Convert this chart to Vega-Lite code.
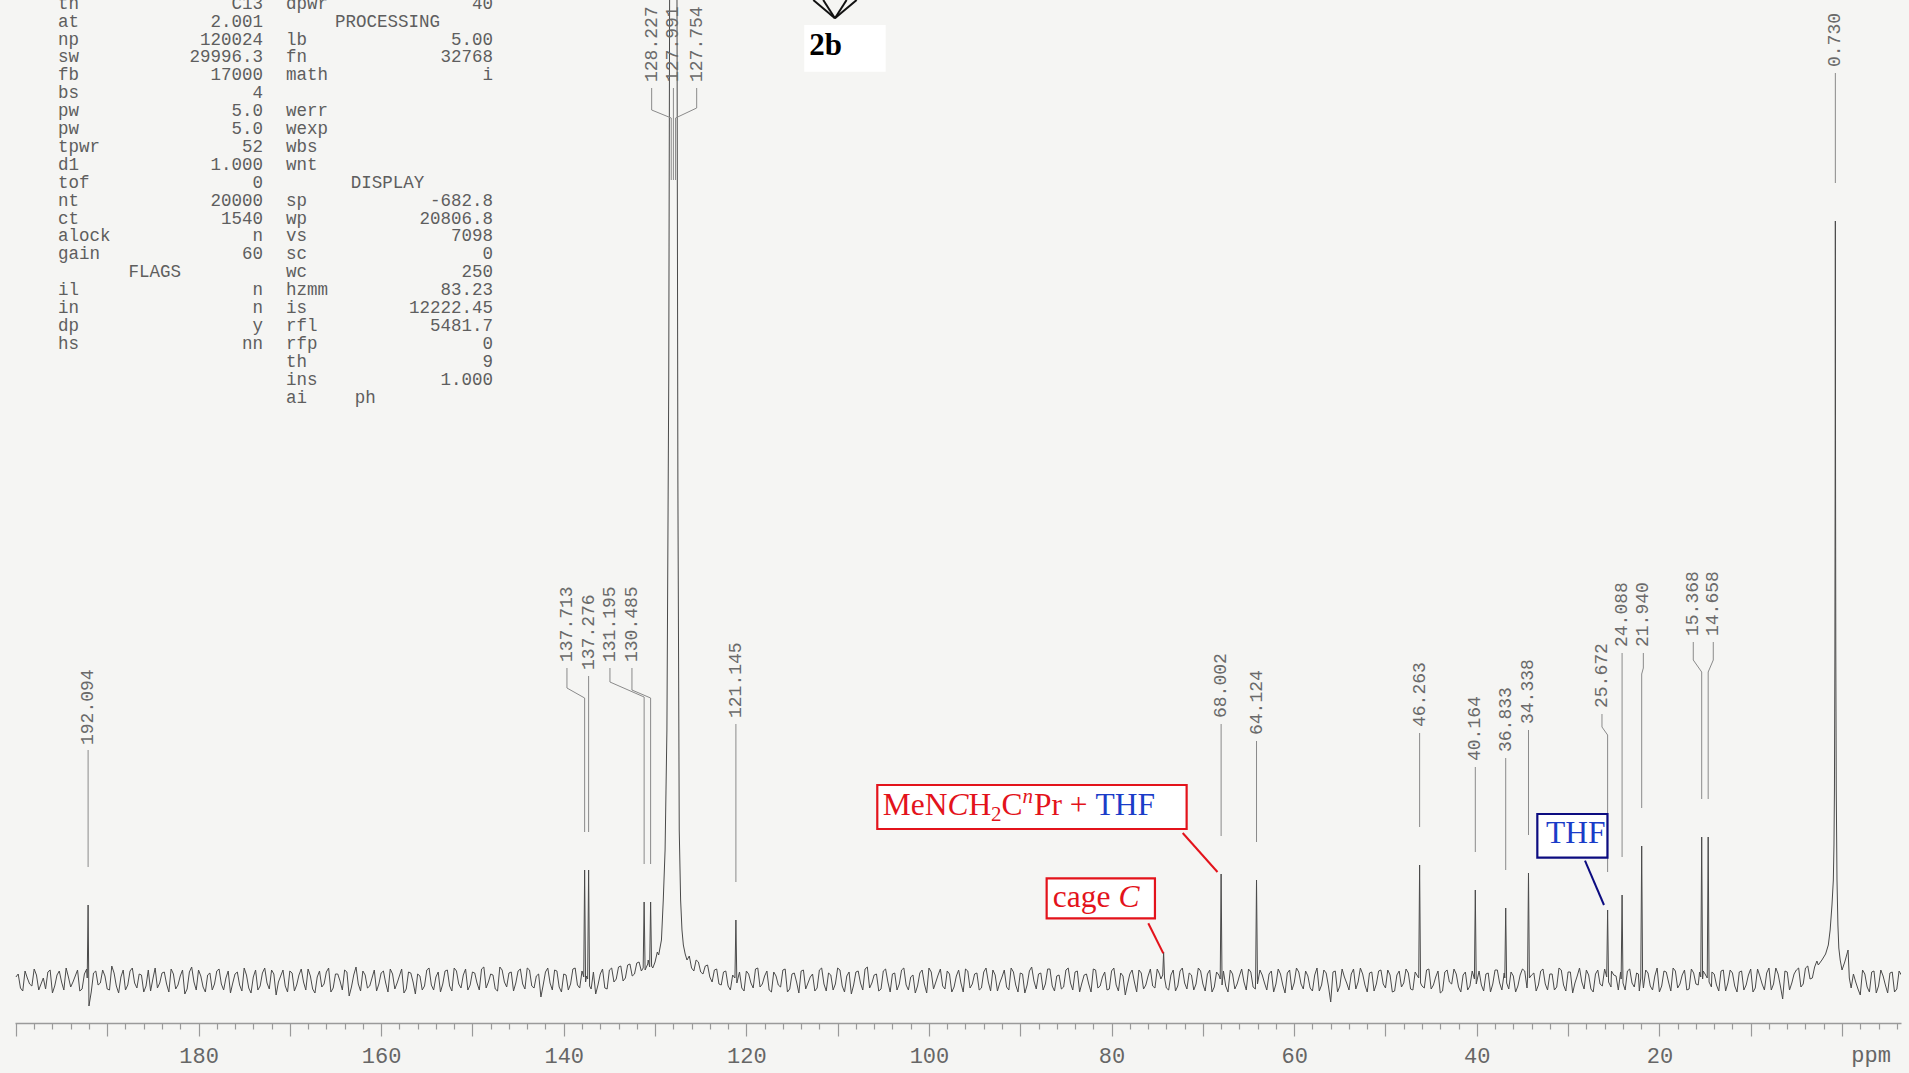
{
  "$schema": "https://vega.github.io/schema/vega-lite/v6.json",
  "width": 1886,
  "height": 1023,
  "autosize": {"type": "none"},
  "padding": {"left": 15, "top": 0, "right": 8, "bottom": 50},
  "background": "#f5f5f3",
  "config": {"view": {"stroke": null}},
  "datasets": {
    "spec": [
      {"p":200,"y":0.3},{"p":199.5,"y":-0.8},{"p":199,"y":0.9},{"p":198.5,"y":-0.4},{"p":198,"y":1.1},{"p":197.5,"y":-1},{"p":197,"y":0.2},{"p":196.5,"y":0.8},{"p":196,"y":-1.3},{"p":195.5,"y":0.5},{"p":195,"y":-0.2},{"p":194.5,"y":1.2},{"p":194,"y":-0.7},{"p":193.5,"y":0.4},{"p":193,"y":-1.1},{"p":192.5,"y":0.6},{"p":192.19,"y":0.2},{"p":192.094,"y":7.5},{"p":192,"y":-2.6},{"p":191.5,"y":0.7},{"p":191,"y":-0.5},{"p":190.5,"y":1},{"p":190,"y":-0.9},{"p":189.5,"y":1.4},{"p":189,"y":-0.6},{"p":188.5,"y":0.3},{"p":188,"y":-1},{"p":187.5,"y":0.9},{"p":187,"y":-0.3},{"p":186.5,"y":0.6},{"p":186,"y":-1.2},{"p":185.5,"y":1},{"p":185,"y":0.1},{"p":184.5,"y":-0.8},{"p":184,"y":0.7},{"p":183.5,"y":-0.4},{"p":183,"y":1.1},{"p":182.5,"y":-0.9},{"p":182,"y":0.4},{"p":181.5,"y":-1.4},{"p":181,"y":0.8},{"p":180.5,"y":-0.2},{"p":180,"y":1},{"p":179.5,"y":-0.7},{"p":179,"y":0.5},{"p":178.5,"y":-1},{"p":178,"y":0.9},{"p":177.5,"y":-0.4},{"p":177,"y":0.2},{"p":176.5,"y":-1.3},{"p":176,"y":0.6},{"p":175.5,"y":-0.5},{"p":175,"y":1.2},{"p":174.5,"y":-0.8},{"p":174,"y":0.3},{"p":173.5,"y":-1},{"p":173,"y":0.7},{"p":172.5,"y":-0.3},{"p":172,"y":1},{"p":171.5,"y":-1.5},{"p":171,"y":0.4},{"p":170.5,"y":-0.6},{"p":170,"y":0.9},{"p":169.5,"y":-1.1},{"p":169,"y":0.5},{"p":168.5,"y":-0.2},{"p":168,"y":1.1},{"p":167.5,"y":-0.9},{"p":167,"y":0.3},{"p":166.5,"y":-0.7},{"p":166,"y":0.8},{"p":165.5,"y":-1.2},{"p":165,"y":0.6},{"p":164.5,"y":-0.1},{"p":164,"y":1},{"p":163.5,"y":-1.6},{"p":163,"y":0.5},{"p":162.5,"y":-0.4},{"p":162,"y":0.9},{"p":161.5,"y":-0.8},{"p":161,"y":0.2},{"p":160.5,"y":-1.1},{"p":160,"y":0.7},{"p":159.5,"y":-0.3},{"p":159,"y":1.1},{"p":158.5,"y":-0.9},{"p":158,"y":0.4},{"p":157.5,"y":-1.3},{"p":157,"y":0.8},{"p":156.5,"y":-0.2},{"p":156,"y":0.6},{"p":155.5,"y":-1},{"p":155,"y":1},{"p":154.5,"y":-0.5},{"p":154,"y":0.3},{"p":153.5,"y":-1.2},{"p":153,"y":0.9},{"p":152.5,"y":-0.6},{"p":152,"y":1.2},{"p":151.5,"y":-0.4},{"p":151,"y":0.5},{"p":150.5,"y":-1},{"p":150,"y":0.8},{"p":149.5,"y":-0.3},{"p":149,"y":1.1},{"p":148.5,"y":-0.8},{"p":148,"y":0.6},{"p":147.5,"y":-0.9},{"p":147,"y":1.3},{"p":146.5,"y":-0.2},{"p":146,"y":0.7},{"p":145.5,"y":-1.1},{"p":145,"y":0.9},{"p":144.5,"y":-0.4},{"p":144,"y":1.2},{"p":143.5,"y":-0.6},{"p":143,"y":0.4},{"p":142.5,"y":-1.7},{"p":142,"y":0.8},{"p":141.5,"y":-0.3},{"p":141,"y":1},{"p":140.5,"y":-0.7},{"p":140,"y":0.6},{"p":139.5,"y":-1},{"p":139,"y":1.1},{"p":138.5,"y":-0.5},{"p":138,"y":0.9},{"p":137.81,"y":0.3},{"p":137.713,"y":11},{"p":137.61,"y":-0.2},{"p":137.5,"y":0.4},{"p":137.38,"y":0.1},{"p":137.276,"y":11},{"p":137.17,"y":-0.6},{"p":137,"y":-0.9},{"p":136.5,"y":-1.4},{"p":136,"y":0.6},{"p":135.5,"y":-0.8},{"p":135,"y":1},{"p":134.5,"y":-0.2},{"p":134,"y":1.3},{"p":133.5,"y":-0.1},{"p":133,"y":1.5},{"p":132.5,"y":0.4},{"p":132,"y":1.7},{"p":131.5,"y":0.9},{"p":131.3,"y":1.2},{"p":131.195,"y":7.8},{"p":131.09,"y":1},{"p":130.8,"y":1.6},{"p":130.59,"y":1.3},{"p":130.485,"y":7.8},{"p":130.38,"y":1.4},{"p":130,"y":1.8},{"p":129.6,"y":2.5},{"p":129.3,"y":4},{"p":129.1,"y":8},{"p":128.9,"y":13},{"p":128.7,"y":25},{"p":128.5,"y":60},{"p":128.35,"y":120},{"p":128.227,"y":200},{"p":128.11,"y":160},{"p":127.991,"y":220},{"p":127.87,"y":160},{"p":127.754,"y":200},{"p":127.62,"y":110},{"p":127.5,"y":50},{"p":127.35,"y":15},{"p":127.2,"y":8},{"p":127.05,"y":5},{"p":126.9,"y":3.5},{"p":126.7,"y":2.6},{"p":126.5,"y":2},{"p":126,"y":1.2},{"p":125.5,"y":2},{"p":125,"y":0.8},{"p":124.5,"y":1.4},{"p":124,"y":0.3},{"p":123.5,"y":1},{"p":123,"y":-0.4},{"p":122.5,"y":0.8},{"p":122,"y":-0.6},{"p":121.5,"y":0.5},{"p":121.25,"y":0.2},{"p":121.145,"y":6},{"p":121.04,"y":-0.3},{"p":120.5,"y":-0.8},{"p":120,"y":0.9},{"p":119.5,"y":-0.3},{"p":119,"y":1.1},{"p":118.5,"y":-0.7},{"p":118,"y":0.4},{"p":117.5,"y":-1},{"p":117,"y":0.8},{"p":116.5,"y":-0.5},{"p":116,"y":1},{"p":115.5,"y":-1.2},{"p":115,"y":0.6},{"p":114.5,"y":-0.2},{"p":114,"y":0.9},{"p":113.5,"y":-0.9},{"p":113,"y":0.3},{"p":112.5,"y":-1.1},{"p":112,"y":1},{"p":111.5,"y":-0.4},{"p":111,"y":0.7},{"p":110.5,"y":-1},{"p":110,"y":1.2},{"p":109.5,"y":-0.6},{"p":109,"y":0.4},{"p":108.5,"y":-1.4},{"p":108,"y":0.8},{"p":107.5,"y":-0.3},{"p":107,"y":1.1},{"p":106.5,"y":-0.8},{"p":106,"y":0.5},{"p":105.5,"y":-1.1},{"p":105,"y":0.9},{"p":104.5,"y":-0.2},{"p":104,"y":0.6},{"p":103.5,"y":-1},{"p":103,"y":1},{"p":102.5,"y":-0.5},{"p":102,"y":0.3},{"p":101.5,"y":-1.3},{"p":101,"y":0.7},{"p":100.5,"y":-0.4},{"p":100,"y":1.2},{"p":99.5,"y":-0.9},{"p":99,"y":0.5},{"p":98.5,"y":-0.6},{"p":98,"y":0.9},{"p":97.5,"y":-1.2},{"p":97,"y":0.4},{"p":96.5,"y":-0.3},{"p":96,"y":1.1},{"p":95.5,"y":-0.8},{"p":95,"y":0.6},{"p":94.5,"y":-1},{"p":94,"y":0.8},{"p":93.5,"y":-0.2},{"p":93,"y":1},{"p":92.5,"y":-1.1},{"p":92,"y":0.3},{"p":91.5,"y":-0.7},{"p":91,"y":1.2},{"p":90.5,"y":-0.5},{"p":90,"y":0.7},{"p":89.5,"y":-1.3},{"p":89,"y":0.9},{"p":88.5,"y":-0.1},{"p":88,"y":0.6},{"p":87.5,"y":-1},{"p":87,"y":1.1},{"p":86.5,"y":-0.6},{"p":86,"y":0.4},{"p":85.5,"y":-0.9},{"p":85,"y":1},{"p":84.5,"y":-0.3},{"p":84,"y":0.8},{"p":83.5,"y":-1.2},{"p":83,"y":0.5},{"p":82.5,"y":-0.4},{"p":82,"y":1.1},{"p":81.5,"y":-0.8},{"p":81,"y":0.3},{"p":80.5,"y":-1},{"p":80,"y":0.9},{"p":79.5,"y":-0.5},{"p":79,"y":0.7},{"p":78.5,"y":-1.5},{"p":78,"y":0.6},{"p":77.5,"y":-0.2},{"p":77,"y":1},{"p":76.5,"y":-0.9},{"p":76,"y":0.4},{"p":75.5,"y":-0.6},{"p":75,"y":1.1},{"p":74.6,"y":0.1},{"p":74.4,"y":0.5},{"p":74.3,"y":2.8},{"p":74.2,"y":0.2},{"p":74,"y":-0.8},{"p":73.5,"y":0.5},{"p":73,"y":-1.1},{"p":72.5,"y":0.9},{"p":72,"y":-0.3},{"p":71.5,"y":0.7},{"p":71,"y":-1},{"p":70.5,"y":1.2},{"p":70,"y":-0.4},{"p":69.5,"y":0.6},{"p":69,"y":-1.2},{"p":68.5,"y":0.8},{"p":68.1,"y":0.1},{"p":68.002,"y":10.6},{"p":67.9,"y":-0.5},{"p":67.5,"y":-0.6},{"p":67,"y":1},{"p":66.5,"y":-0.9},{"p":66,"y":0.4},{"p":65.5,"y":-0.2},{"p":65,"y":1.1},{"p":64.5,"y":-0.7},{"p":64.22,"y":0.3},{"p":64.124,"y":10},{"p":64.02,"y":-0.4},{"p":63.5,"y":0.5},{"p":63,"y":-1},{"p":62.5,"y":0.9},{"p":62,"y":-0.4},{"p":61.5,"y":0.6},{"p":61,"y":-1.3},{"p":60.5,"y":1},{"p":60,"y":-0.3},{"p":59.5,"y":0.8},{"p":59,"y":-0.9},{"p":58.5,"y":0.4},{"p":58,"y":-1.1},{"p":57.5,"y":1.2},{"p":57,"y":-0.5},{"p":56.5,"y":0.7},{"p":56,"y":-2.2},{"p":55.5,"y":0.9},{"p":55,"y":-0.6},{"p":54.5,"y":0.3},{"p":54,"y":-1},{"p":53.5,"y":1.1},{"p":53,"y":-0.2},{"p":52.5,"y":0.6},{"p":52,"y":-1.2},{"p":51.5,"y":0.8},{"p":51,"y":-0.4},{"p":50.5,"y":1},{"p":50,"y":-0.8},{"p":49.5,"y":0.5},{"p":49,"y":-1.1},{"p":48.5,"y":0.9},{"p":48,"y":-0.3},{"p":47.5,"y":0.7},{"p":47,"y":-1},{"p":46.5,"y":0.4},{"p":46.36,"y":0.2},{"p":46.263,"y":11.5},{"p":46.16,"y":-0.3},{"p":46,"y":-0.6},{"p":45.5,"y":1},{"p":45,"y":-0.9},{"p":44.5,"y":0.3},{"p":44,"y":-1.3},{"p":43.5,"y":0.8},{"p":43,"y":-0.2},{"p":42.5,"y":1.1},{"p":42,"y":-0.7},{"p":41.5,"y":0.5},{"p":41,"y":-1},{"p":40.5,"y":0.9},{"p":40.26,"y":0.1},{"p":40.164,"y":9},{"p":40.06,"y":-0.4},{"p":39.5,"y":-0.5},{"p":39,"y":0.6},{"p":38.5,"y":-1.2},{"p":38,"y":1},{"p":37.5,"y":-0.3},{"p":37,"y":0.7},{"p":36.93,"y":0.2},{"p":36.833,"y":7.2},{"p":36.73,"y":-0.3},{"p":36.5,"y":-0.9},{"p":36,"y":0.4},{"p":35.5,"y":-0.6},{"p":35,"y":1.1},{"p":34.5,"y":-0.8},{"p":34.44,"y":0.1},{"p":34.338,"y":10.7},{"p":34.24,"y":0.2},{"p":34,"y":0.5},{"p":33.5,"y":-1.1},{"p":33,"y":0.9},{"p":32.5,"y":-0.4},{"p":32,"y":0.6},{"p":31.5,"y":-1},{"p":31,"y":1.2},{"p":30.5,"y":-0.5},{"p":30,"y":0.8},{"p":29.5,"y":-1.3},{"p":29,"y":0.4},{"p":28.5,"y":-0.2},{"p":28,"y":1},{"p":27.5,"y":-0.9},{"p":27,"y":0.6},{"p":26.5,"y":-0.4},{"p":26,"y":1.1},{"p":25.77,"y":0.3},{"p":25.672,"y":7},{"p":25.57,"y":-0.2},{"p":25.3,"y":-0.7},{"p":25,"y":0.5},{"p":24.5,"y":-1},{"p":24.19,"y":0.1},{"p":24.088,"y":8.5},{"p":23.99,"y":-0.3},{"p":23.5,"y":0.9},{"p":23,"y":-0.3},{"p":22.5,"y":0.7},{"p":22.2,"y":-1.1},{"p":22.04,"y":0.2},{"p":21.94,"y":13.4},{"p":21.84,"y":0.1},{"p":21.5,"y":1},{"p":21,"y":-0.6},{"p":20.5,"y":0.4},{"p":20,"y":-1.2},{"p":19.5,"y":0.9},{"p":19,"y":-0.2},{"p":18.5,"y":1.2},{"p":18,"y":-0.8},{"p":17.5,"y":0.5},{"p":17,"y":-1},{"p":16.5,"y":1.1},{"p":16,"y":-0.4},{"p":15.6,"y":0.8},{"p":15.47,"y":0.3},{"p":15.368,"y":14.3},{"p":15.27,"y":0.1},{"p":15,"y":0.6},{"p":14.76,"y":0.2},{"p":14.658,"y":14.3},{"p":14.56,"y":-0.2},{"p":14.3,"y":-0.7},{"p":14,"y":0.6},{"p":13.5,"y":-1.1},{"p":13,"y":1},{"p":12.5,"y":-0.3},{"p":12,"y":0.7},{"p":11.5,"y":-1.2},{"p":11,"y":0.9},{"p":10.5,"y":-0.5},{"p":10,"y":1.1},{"p":9.5,"y":-0.8},{"p":9,"y":0.4},{"p":8.5,"y":-1},{"p":8,"y":1.2},{"p":7.5,"y":-0.4},{"p":7,"y":0.6},{"p":6.5,"y":-1.9},{"p":6,"y":0.8},{"p":5.5,"y":-0.3},{"p":5,"y":1},{"p":4.5,"y":-0.7},{"p":4,"y":1.2},{"p":3.5,"y":0.1},{"p":3,"y":1.3},{"p":2.6,"y":1.5},{"p":2.2,"y":2},{"p":1.8,"y":2.6},{"p":1.5,"y":3.5},{"p":1.3,"y":5},{"p":1.1,"y":7.5},{"p":0.95,"y":10},{"p":0.88,"y":13.5},{"p":0.83,"y":19},{"p":0.78,"y":33},{"p":0.75,"y":52},{"p":0.73,"y":75.9},{"p":0.71,"y":52},{"p":0.68,"y":33},{"p":0.63,"y":19},{"p":0.55,"y":10},{"p":0.45,"y":5.5},{"p":0.35,"y":3.2},{"p":0.2,"y":2},{"p":0,"y":1},{"p":-0.3,"y":1.8},{"p":-0.66,"y":3},{"p":-0.8,"y":0.2},{"p":-1,"y":-0.8},{"p":-1.5,"y":-0.2},{"p":-2,"y":-1.5},{"p":-2.5,"y":0.6},{"p":-3,"y":-1.2},{"p":-3.5,"y":0.9},{"p":-4,"y":-0.6},{"p":-4.5,"y":0.4},{"p":-5,"y":-1.3},{"p":-5.5,"y":0.8},{"p":-6,"y":-0.9},{"p":-6.5,"y":0.5},
      {"p":199.75,"y":0.6},{"p":199.25,"y":-1.1},{"p":198.75,"y":0.2},{"p":198.25,"y":-0.6},{"p":197.75,"y":0.5},{"p":197.25,"y":-0.4},{"p":196.75,"y":-0.9},{"p":196.25,"y":1},{"p":195.75,"y":-0.6},{"p":195.25,"y":0.9},{"p":194.75,"y":-1},{"p":194.25,"y":0.3},{"p":193.75,"y":-0.2},{"p":193.25,"y":1},{"p":192.75,"y":-0.9},{"p":192.25,"y":1.1},{"p":191.75,"y":-1.2},{"p":191.25,"y":0.9},{"p":190.75,"y":-0.3},{"p":190.25,"y":0.4},{"p":189.75,"y":-1},{"p":189.25,"y":0.7},{"p":188.75,"y":-1.3},{"p":188.25,"y":1},{"p":187.75,"y":-0.5},{"p":187.25,"y":1.2},{"p":186.75,"y":-0.8},{"p":186.25,"y":0.5},{"p":185.75,"y":-0.6},{"p":185.25,"y":-1.1},{"p":184.75,"y":1.2},{"p":184.25,"y":-0.3},{"p":183.75,"y":0.8},{"p":183.25,"y":-1.2},{"p":182.75,"y":0.6},{"p":182.25,"y":-0.5},{"p":181.75,"y":1},{"p":181.25,"y":-0.9},{"p":180.75,"y":1.3},{"p":180.25,"y":-1},{"p":179.75,"y":0.4},{"p":179.25,"y":-1.2},{"p":178.75,"y":0.7},{"p":178.25,"y":-0.4},{"p":177.75,"y":1.1},{"p":177.25,"y":-1},{"p":176.75,"y":0.9},{"p":176.25,"y":-0.3},{"p":175.75,"y":0.8},{"p":175.25,"y":-1.1},{"p":174.75,"y":0.5},{"p":174.25,"y":-1.3},{"p":173.75,"y":1},{"p":173.25,"y":-0.6},{"p":172.75,"y":1.2},{"p":172.25,"y":-0.9},{"p":171.75,"y":0.6},{"p":171.25,"y":-0.2},{"p":170.75,"y":1},{"p":170.25,"y":-1.2},{"p":169.75,"y":0.7},{"p":169.25,"y":-0.5},{"p":168.75,"y":1.1},{"p":168.25,"y":-1},{"p":167.75,"y":0.4},{"p":167.25,"y":-1.3},{"p":166.75,"y":0.9},{"p":166.25,"y":-0.4},{"p":165.75,"y":1.2},{"p":165.25,"y":-0.8},{"p":164.75,"y":0.6},{"p":164.25,"y":-1},{"p":163.75,"y":0.8},{"p":163.25,"y":-0.7},{"p":162.75,"y":1.3},{"p":162.25,"y":-1.1},{"p":161.75,"y":0.5},{"p":161.25,"y":-0.6},{"p":160.75,"y":1},{"p":160.25,"y":-0.4},{"p":159.75,"y":0.9},{"p":159.25,"y":-1.2},{"p":158.75,"y":0.6},{"p":158.25,"y":-0.3},{"p":157.75,"y":1.1},{"p":157.25,"y":-0.9},{"p":156.75,"y":0.7},{"p":156.25,"y":-1.4},{"p":155.75,"y":0.4},{"p":155.25,"y":-0.6},{"p":154.75,"y":1.2},{"p":154.25,"y":-1},{"p":153.75,"y":0.8},{"p":153.25,"y":-0.4},{"p":152.75,"y":1},{"p":152.25,"y":-1.1},{"p":151.75,"y":0.9},{"p":151.25,"y":-0.8},{"p":150.75,"y":1.1},{"p":150.25,"y":-0.5},{"p":149.75,"y":0.7},{"p":149.25,"y":-1},{"p":148.75,"y":1.3},{"p":148.25,"y":-0.2},{"p":147.75,"y":0.5},{"p":147.25,"y":-1.1},{"p":146.75,"y":1},{"p":146.25,"y":-0.7},{"p":145.75,"y":0.8},{"p":145.25,"y":-0.3},{"p":144.75,"y":1.1},{"p":144.25,"y":-0.9},{"p":143.75,"y":1},{"p":143.25,"y":-0.8},{"p":142.75,"y":0.6},{"p":142.25,"y":-0.5},{"p":141.75,"y":1.2},{"p":141.25,"y":-1},{"p":140.75,"y":0.9},{"p":140.25,"y":-1.2},{"p":139.75,"y":0.5},{"p":139.25,"y":-0.4},{"p":138.75,"y":1.2},{"p":138.25,"y":-0.8},{"p":136.75,"y":0.8},{"p":136.25,"y":-0.5},{"p":135.75,"y":1.1},{"p":135.25,"y":-0.9},{"p":134.75,"y":1.2},{"p":134.25,"y":0.1},{"p":133.75,"y":1.4},{"p":133.25,"y":0.2},{"p":132.75,"y":1.6},{"p":132.25,"y":0.6},{"p":131.75,"y":1.8},{"p":130.75,"y":2},{"p":130.25,"y":1.2},{"p":129.75,"y":2.8},{"p":126.25,"y":2.4},{"p":125.75,"y":0.9},{"p":125.25,"y":1.8},{"p":124.75,"y":0.6},{"p":124.25,"y":1.5},{"p":123.75,"y":-0.2},{"p":123.25,"y":1.1},{"p":122.75,"y":-0.5},{"p":122.25,"y":0.9},{"p":121.75,"y":-1},{"p":120.75,"y":0.8},{"p":120.25,"y":-1.1},{"p":119.75,"y":0.6},{"p":119.25,"y":-0.8},{"p":118.75,"y":1.2},{"p":118.25,"y":-0.4},{"p":117.75,"y":0.9},{"p":117.25,"y":-1.2},{"p":116.75,"y":0.4},{"p":116.25,"y":-0.7},{"p":115.75,"y":1.1},{"p":115.25,"y":-0.9},{"p":114.75,"y":0.7},{"p":114.25,"y":-1.3},{"p":113.75,"y":1},{"p":113.25,"y":-0.3},{"p":112.75,"y":0.6},{"p":112.25,"y":-0.8},{"p":111.75,"y":1.2},{"p":111.25,"y":-1.1},{"p":110.75,"y":0.5},{"p":110.25,"y":-0.4},{"p":109.75,"y":1},{"p":109.25,"y":-1.2},{"p":108.75,"y":0.8},{"p":108.25,"y":-0.5},{"p":107.75,"y":0.9},{"p":107.25,"y":-1},{"p":106.75,"y":1.3},{"p":106.25,"y":-0.3},{"p":105.75,"y":0.6},{"p":105.25,"y":-0.9},{"p":104.75,"y":1.1},{"p":104.25,"y":-1.2},{"p":103.75,"y":0.7},{"p":103.25,"y":-0.4},{"p":102.75,"y":1.2},{"p":102.25,"y":-1},{"p":101.75,"y":0.5},{"p":101.25,"y":-0.6},{"p":100.75,"y":1},{"p":100.25,"y":-1.3},{"p":99.75,"y":0.8},{"p":99.25,"y":-0.2},{"p":98.75,"y":1.1},{"p":98.25,"y":-0.9},{"p":97.75,"y":0.6},{"p":97.25,"y":-0.7},{"p":96.75,"y":1},{"p":96.25,"y":-1.2},{"p":95.75,"y":0.9},{"p":95.25,"y":-0.4},{"p":94.75,"y":0.7},{"p":94.25,"y":-0.8},{"p":93.75,"y":1.2},{"p":93.25,"y":-1.1},{"p":92.75,"y":0.5},{"p":92.25,"y":-0.3},{"p":91.75,"y":1},{"p":91.25,"y":-1},{"p":90.75,"y":0.8},{"p":90.25,"y":-1.2},{"p":89.75,"y":0.6},{"p":89.25,"y":-0.5},{"p":88.75,"y":1.3},{"p":88.25,"y":-0.9},{"p":87.75,"y":0.7},{"p":87.25,"y":-0.4},{"p":86.75,"y":1.1},{"p":86.25,"y":-1.1},{"p":85.75,"y":0.5},{"p":85.25,"y":-0.7},{"p":84.75,"y":1.2},{"p":84.25,"y":-1},{"p":83.75,"y":0.9},{"p":83.25,"y":-0.3},{"p":82.75,"y":0.6},{"p":82.25,"y":-1.2},{"p":81.75,"y":1},{"p":81.25,"y":-0.6},{"p":80.75,"y":0.8},{"p":80.25,"y":-0.9},{"p":79.75,"y":1.2},{"p":79.25,"y":-1.1},{"p":78.75,"y":0.4},{"p":78.25,"y":-0.4},{"p":77.75,"y":1},{"p":77.25,"y":-1.2},{"p":76.75,"y":0.7},{"p":76.25,"y":-0.5},{"p":75.75,"y":1.1},{"p":75.25,"y":-0.8},{"p":74.75,"y":0.6},{"p":73.75,"y":-1},{"p":73.25,"y":1},{"p":72.75,"y":-0.6},{"p":72.25,"y":1.2},{"p":71.75,"y":-0.9},{"p":71.25,"y":0.5},{"p":70.75,"y":-0.4},{"p":70.25,"y":0.9},{"p":69.75,"y":-1.1},{"p":69.25,"y":1},{"p":68.75,"y":-0.7},{"p":68.25,"y":0.5},{"p":67.75,"y":0.9},{"p":67.25,"y":-1.2},{"p":66.75,"y":0.6},{"p":66.25,"y":-0.4},{"p":65.75,"y":1.1},{"p":65.25,"y":-1},{"p":64.75,"y":0.8},{"p":64.25,"y":-0.9},{"p":63.75,"y":1},{"p":63.25,"y":-0.3},{"p":62.75,"y":0.6},{"p":62.25,"y":-1.2},{"p":61.75,"y":1.1},{"p":61.25,"y":-0.5},{"p":60.75,"y":0.7},{"p":60.25,"y":-1},{"p":59.75,"y":1.2},{"p":59.25,"y":-0.4},{"p":58.75,"y":0.9},{"p":58.25,"y":-0.8},{"p":57.75,"y":0.5},{"p":57.25,"y":-1.1},{"p":56.75,"y":1},{"p":56.25,"y":-0.6},{"p":55.75,"y":0.8},{"p":55.25,"y":-1.2},{"p":54.75,"y":1.1},{"p":54.25,"y":-0.3},{"p":53.75,"y":0.6},{"p":53.25,"y":-0.9},{"p":52.75,"y":1.2},{"p":52.25,"y":-0.5},{"p":51.75,"y":0.7},{"p":51.25,"y":-1.1},{"p":50.75,"y":0.9},{"p":50.25,"y":-0.4},{"p":49.75,"y":1},{"p":49.25,"y":-1.2},{"p":48.75,"y":0.5},{"p":48.25,"y":-0.7},{"p":47.75,"y":1.1},{"p":47.25,"y":-0.9},{"p":46.75,"y":0.8},{"p":45.75,"y":-0.8},{"p":45.25,"y":1.1},{"p":44.75,"y":-0.5},{"p":44.25,"y":0.9},{"p":43.75,"y":-1.1},{"p":43.25,"y":1},{"p":42.75,"y":-0.4},{"p":42.25,"y":0.6},{"p":41.75,"y":-1.2},{"p":41.25,"y":0.8},{"p":40.75,"y":-0.6},{"p":39.75,"y":0.9},{"p":39.25,"y":-1.1},{"p":38.75,"y":0.7},{"p":38.25,"y":-0.4},{"p":37.75,"y":1},{"p":37.25,"y":-1},{"p":36.25,"y":0.8},{"p":35.75,"y":-1.2},{"p":35.25,"y":0.5},{"p":34.75,"y":0.9},{"p":33.75,"y":0.7},{"p":33.25,"y":-0.5},{"p":32.75,"y":1.1},{"p":32.25,"y":-1},{"p":31.75,"y":0.6},{"p":31.25,"y":-0.7},{"p":30.75,"y":1},{"p":30.25,"y":-1.1},{"p":29.75,"y":0.8},{"p":29.25,"y":-0.3},{"p":28.75,"y":1.2},{"p":28.25,"y":-0.9},{"p":27.75,"y":0.5},{"p":27.25,"y":-1.2},{"p":26.75,"y":1},{"p":26.25,"y":-0.6},{"p":25.25,"y":0.9},{"p":24.75,"y":0.4},{"p":24.25,"y":0.8},{"p":23.75,"y":-1},{"p":23.25,"y":1.1},{"p":22.75,"y":-0.7},{"p":22.3,"y":0.6},{"p":21.75,"y":-0.8},{"p":21.25,"y":0.7},{"p":20.75,"y":-1},{"p":20.25,"y":1.2},{"p":19.75,"y":-0.6},{"p":19.25,"y":0.8},{"p":18.75,"y":-1.1},{"p":18.25,"y":0.9},{"p":17.75,"y":-0.4},{"p":17.25,"y":1},{"p":16.75,"y":-0.9},{"p":16.25,"y":0.7},{"p":15.75,"y":-0.5},{"p":15.2,"y":0.9},{"p":14.25,"y":0.8},{"p":13.75,"y":-0.5},{"p":13.25,"y":0.9},{"p":12.75,"y":-1.1},{"p":12.25,"y":1},{"p":11.75,"y":-0.6},{"p":11.25,"y":0.8},{"p":10.75,"y":-1},{"p":10.25,"y":0.5},{"p":9.75,"y":-1.2},{"p":9.25,"y":1.1},{"p":8.75,"y":-0.4},{"p":8.25,"y":0.7},{"p":7.75,"y":-1},{"p":7.25,"y":1.2},{"p":6.75,"y":-0.6},{"p":6.25,"y":0.9},{"p":5.75,"y":-1},{"p":5.25,"y":0.6},{"p":4.75,"y":1.2},{"p":4.25,"y":-0.4},{"p":3.75,"y":1.4},{"p":3.25,"y":0.2},{"p":2.75,"y":1.9},{"p":-1.25,"y":0.6},{"p":-1.75,"y":-0.9},{"p":-2.25,"y":1},{"p":-2.75,"y":-0.7},{"p":-3.25,"y":0.8},{"p":-3.75,"y":-1.3},{"p":-4.25,"y":1},{"p":-4.75,"y":-0.5},{"p":-5.25,"y":0.7},{"p":-5.75,"y":-1.2},{"p":-6.25,"y":0.9}
    ],
    "leaders": [
      {"k":1,"o":1,"p":192.094,"y":23.0},{"k":1,"o":2,"p":192.094,"y":11.3},
      {"k":2,"o":1,"p":139.65,"y":31.2},{"k":2,"o":2,"p":139.65,"y":29.2},{"k":2,"o":3,"p":137.713,"y":28.2},{"k":2,"o":4,"p":137.713,"y":14.8},
      {"k":3,"o":1,"p":137.276,"y":30.4},{"k":3,"o":2,"p":137.276,"y":14.8},
      {"k":4,"o":1,"p":134.94,"y":31.2},{"k":4,"o":2,"p":134.94,"y":29.8},{"k":4,"o":3,"p":131.195,"y":28.3},{"k":4,"o":4,"p":131.195,"y":11.6},
      {"k":5,"o":1,"p":132.53,"y":31.2},{"k":5,"o":2,"p":132.53,"y":29.0},{"k":5,"o":3,"p":130.485,"y":28.2},{"k":5,"o":4,"p":130.485,"y":11.6},
      {"k":6,"o":1,"p":130.37,"y":89.2},{"k":6,"o":2,"p":130.37,"y":87.0},{"k":6,"o":3,"p":128.227,"y":86.2},{"k":6,"o":4,"p":128.227,"y":80},
      {"k":7,"o":1,"p":127.991,"y":89.2},{"k":7,"o":2,"p":127.991,"y":80},
      {"k":8,"o":1,"p":125.44,"y":89.2},{"k":8,"o":2,"p":125.44,"y":87.2},{"k":8,"o":3,"p":127.754,"y":86.2},{"k":8,"o":4,"p":127.754,"y":80},
      {"k":9,"o":1,"p":121.145,"y":25.6},{"k":9,"o":2,"p":121.145,"y":9.8},
      {"k":10,"o":1,"p":68.002,"y":25.6},{"k":10,"o":2,"p":68.002,"y":14.4},
      {"k":11,"o":1,"p":64.124,"y":23.9},{"k":11,"o":2,"p":64.124,"y":13.8},
      {"k":12,"o":1,"p":46.263,"y":24.7},{"k":12,"o":2,"p":46.263,"y":15.3},
      {"k":13,"o":1,"p":40.164,"y":21.3},{"k":13,"o":2,"p":40.164,"y":12.8},
      {"k":14,"o":1,"p":36.833,"y":22.2},{"k":14,"o":2,"p":36.833,"y":11.0},
      {"k":15,"o":1,"p":34.338,"y":25.0},{"k":15,"o":2,"p":34.338,"y":14.5},
      {"k":16,"o":1,"p":26.29,"y":26.6},{"k":16,"o":2,"p":26.29,"y":25.3},{"k":16,"o":3,"p":25.672,"y":24.5},{"k":16,"o":4,"p":25.672,"y":10.8},
      {"k":17,"o":1,"p":24.088,"y":32.7},{"k":17,"o":2,"p":24.088,"y":12.3},
      {"k":18,"o":1,"p":21.76,"y":32.7},{"k":18,"o":2,"p":21.76,"y":31.2},{"k":18,"o":3,"p":21.94,"y":30.6},{"k":18,"o":4,"p":21.94,"y":17.2},
      {"k":19,"o":1,"p":16.29,"y":33.8},{"k":19,"o":2,"p":16.29,"y":32.0},{"k":19,"o":3,"p":15.368,"y":30.8},{"k":19,"o":4,"p":15.368,"y":18.1},
      {"k":20,"o":1,"p":14.10,"y":33.8},{"k":20,"o":2,"p":14.10,"y":32.0},{"k":20,"o":3,"p":14.658,"y":30.8},{"k":20,"o":4,"p":14.658,"y":18.1},
      {"k":21,"o":1,"p":0.73,"y":90.7},{"k":21,"o":2,"p":0.73,"y":79.7}
    ],
    "labels": [
      {"t":"192.094","p":192.094,"y":23.5},
      {"t":"137.713","p":139.65,"y":31.8},
      {"t":"137.276","p":137.276,"y":31.0},
      {"t":"131.195","p":134.94,"y":31.8},
      {"t":"130.485","p":132.53,"y":31.8},
      {"t":"128.227","p":130.37,"y":89.8},
      {"t":"127.991","p":127.991,"y":89.8},
      {"t":"127.754","p":125.44,"y":89.8},
      {"t":"121.145","p":121.145,"y":26.2},
      {"t":"68.002","p":68.002,"y":26.2},
      {"t":"64.124","p":64.124,"y":24.5},
      {"t":"46.263","p":46.263,"y":25.3},
      {"t":"40.164","p":40.164,"y":21.9},
      {"t":"36.833","p":36.833,"y":22.8},
      {"t":"34.338","p":34.338,"y":25.6},
      {"t":"25.672","p":26.29,"y":27.2},
      {"t":"24.088","p":24.088,"y":33.3},
      {"t":"21.940","p":21.76,"y":33.3},
      {"t":"15.368","p":16.29,"y":34.4},
      {"t":"14.658","p":14.10,"y":34.4},
      {"t":"0.730","p":0.73,"y":91.3}
    ],
    "boxes": [
      {"p":105.66,"p2":71.78,"y":19.5,"y2":15.1,"s":"red"},
      {"p":87.11,"p2":75.25,"y":10.17,"y2":6.17,"s":"red"},
      {"p":33.37,"p2":25.69,"y":16.6,"y2":12.23,"s":"navy"},
      {"p":113.66,"p2":104.74,"y":95.5,"y2":90.83,"s":"none"}
    ],
    "pointers": [
      {"p":72.21,"p2":68.4,"y":14.7,"y2":10.8,"s":"red"},
      {"p":75.98,"p2":74.34,"y":5.67,"y2":2.67,"s":"red"},
      {"p":28.15,"p2":26.07,"y":11.93,"y2":7.5,"s":"navy"},
      {"p":110.3,"p2":112.67,"y":96.17,"y2":98,"s":"black"},
      {"p":110.3,"p2":111.58,"y":96.17,"y2":98,"s":"black"},
      {"p":110.3,"p2":109.02,"y":96.17,"y2":98,"s":"black"},
      {"p":110.3,"p2":107.92,"y":96.17,"y2":98,"s":"black"}
    ],
    "notes": [
      {"t":"MeN","p":105.07,"y":16.5,"s":"r"},
      {"t":"C","p":97.98,"y":16.5,"s":"ri"},
      {"t":"H","p":95.68,"y":16.5,"s":"r"},
      {"t":"2","p":93.2,"y":15.9,"s":"rs"},
      {"t":"C","p":92.05,"y":16.5,"s":"r"},
      {"t":"n","p":89.75,"y":17.7,"s":"rsi"},
      {"t":"Pr +","p":88.5,"y":16.5,"s":"r"},
      {"t":"THF","p":81.75,"y":16.5,"s":"b"},
      {"t":"cage","p":86.45,"y":7.33,"s":"r"},
      {"t":"C","p":79.24,"y":7.33,"s":"ri"},
      {"t":"THF","p":32.42,"y":13.67,"s":"b"},
      {"t":"2b","p":113.11,"y":92.5,"s":"k"},
      {"t":"ppm","p":-3.18,"y":-7.5,"s":"unit"}
    ],
    "params": [
      {"r":1,"a":"tn","b":"C13","c":"dpwr","d":"40"},
      {"r":2,"a":"at","b":"2.001","c":"","d":""},
      {"r":3,"a":"np","b":"120024","c":"lb","d":"5.00"},
      {"r":4,"a":"sw","b":"29996.3","c":"fn","d":"32768"},
      {"r":5,"a":"fb","b":"17000","c":"math","d":"i"},
      {"r":6,"a":"bs","b":"4","c":"","d":""},
      {"r":7,"a":"pw","b":"5.0","c":"werr","d":""},
      {"r":8,"a":"pw","b":"5.0","c":"wexp","d":""},
      {"r":9,"a":"tpwr","b":"52","c":"wbs","d":""},
      {"r":10,"a":"d1","b":"1.000","c":"wnt","d":""},
      {"r":11,"a":"tof","b":"0","c":"","d":""},
      {"r":12,"a":"nt","b":"20000","c":"sp","d":"-682.8"},
      {"r":13,"a":"ct","b":"1540","c":"wp","d":"20806.8"},
      {"r":14,"a":"alock","b":"n","c":"vs","d":"7098"},
      {"r":15,"a":"gain","b":"60","c":"sc","d":"0"},
      {"r":16,"a":"","b":"","c":"wc","d":"250"},
      {"r":17,"a":"il","b":"n","c":"hzmm","d":"83.23"},
      {"r":18,"a":"in","b":"n","c":"is","d":"12222.45"},
      {"r":19,"a":"dp","b":"y","c":"rfl","d":"5481.7"},
      {"r":20,"a":"hs","b":"nn","c":"rfp","d":"0"},
      {"r":21,"a":"","b":"","c":"th","d":"9"},
      {"r":22,"a":"","b":"","c":"ins","d":"1.000"},
      {"r":23,"a":"","b":"","c":"ai","d":""}
    ],
    "heads": [
      {"r":2,"t":"PROCESSING","k":"sec"},
      {"r":11,"t":"DISPLAY","k":"sec"},
      {"r":16,"t":"FLAGS","k":"flags"},
      {"r":23,"t":"ph","k":"val"}
    ]
  },
  "layer": [
    {
      "layer": [
        {
          "data": {"name": "spec"},
          "mark": {"type": "line", "color": "#4a4a4a", "strokeWidth": 1, "clip": true, "interpolate": "linear"},
          "encoding": {
            "x": {
              "field": "p", "type": "quantitative",
              "scale": {"domain": [-6.46, 200.1], "reverse": true, "nice": false, "zero": false},
              "axis": {
                "title": null,
                "grid": false,
                "tickCount": 400,
                "format": "d",
                "values": [200,198,196,194,192,190,188,186,184,182,180,178,176,174,172,170,168,166,164,162,160,158,156,154,152,150,148,146,144,142,140,138,136,134,132,130,128,126,124,122,120,118,116,114,112,110,108,106,104,102,100,98,96,94,92,90,88,86,84,82,80,78,76,74,72,70,68,66,64,62,60,58,56,54,52,50,48,46,44,42,40,38,36,34,32,30,28,26,24,22,20,18,16,14,12,10,8,6,4,2,0,-2,-4,-6],
                "labelExpr": "(datum.value % 20 === 0 && datum.value > 0 && datum.value < 200) ? datum.label : ''",
                "labelOverlap": false,
                "labelFlush": false,
                "tickSize": {"condition": {"test": "datum.value % 10 === 0", "value": 13}, "value": 6},
                "tickColor": "#9a9a9a",
                "tickWidth": 1.2,
                "domainColor": "#9a9a9a",
                "domainWidth": 1.5,
                "labelFont": "Liberation Mono",
                "labelFontSize": 22,
                "labelColor": "#666666",
                "labelBaseline": "middle",
                "labelPadding": 19
              }
            },
            "y": {"field": "y", "type": "quantitative", "scale": {"domain": [-4.3, 98], "nice": false, "zero": false}, "axis": null}
          }
        },
        {
          "data": {"name": "leaders"},
          "mark": {"type": "line", "color": "#8a8a8a", "strokeWidth": 1},
          "encoding": {
            "x": {"field": "p", "type": "quantitative"},
            "y": {"field": "y", "type": "quantitative", "scale": {"domain": [-4.3, 98], "nice": false, "zero": false}, "axis": null},
            "detail": {"field": "k", "type": "nominal"},
            "order": {"field": "o", "type": "quantitative"}
          }
        },
        {
          "data": {"name": "labels"},
          "mark": {"type": "text", "angle": 270, "align": "left", "baseline": "middle", "font": "Liberation Mono", "fontSize": 18, "color": "#6a6a6a"},
          "encoding": {
            "x": {"field": "p", "type": "quantitative"},
            "y": {"field": "y", "type": "quantitative", "scale": {"domain": [-4.3, 98], "nice": false, "zero": false}, "axis": null},
            "text": {"field": "t"}
          }
        },
        {
          "data": {"name": "boxes"},
          "mark": {"type": "rect", "fill": "#ffffff", "strokeWidth": 2.2},
          "encoding": {
            "x": {"field": "p", "type": "quantitative"},
            "x2": {"field": "p2"},
            "y": {"field": "y", "type": "quantitative", "scale": {"domain": [-4.3, 98], "nice": false, "zero": false}, "axis": null},
            "y2": {"field": "y2"},
            "stroke": {"field": "s", "type": "nominal", "scale": {"domain": ["red", "navy", "none", "black"], "range": ["#e3131b", "#0c0c80", "rgba(0,0,0,0)", "#111111"]}, "legend": null}
          }
        },
        {
          "data": {"name": "pointers"},
          "mark": {"type": "rule", "strokeWidth": 2},
          "encoding": {
            "x": {"field": "p", "type": "quantitative"},
            "x2": {"field": "p2"},
            "y": {"field": "y", "type": "quantitative", "scale": {"domain": [-4.3, 98], "nice": false, "zero": false}, "axis": null},
            "y2": {"field": "y2"},
            "stroke": {"field": "s", "type": "nominal", "scale": {"domain": ["red", "navy", "none", "black"], "range": ["#e3131b", "#0c0c80", "rgba(0,0,0,0)", "#111111"]}, "legend": null}
          }
        },
        {
          "data": {"name": "notes"},
          "transform": [{"filter": "datum.s === 'r'"}],
          "mark": {"type": "text", "align": "left", "baseline": "alphabetic", "font": "Liberation Serif", "fontSize": 31.5, "color": "#e3131b"},
          "encoding": {
            "x": {"field": "p", "type": "quantitative"},
            "y": {"field": "y", "type": "quantitative", "scale": {"domain": [-4.3, 98], "nice": false, "zero": false}, "axis": null},
            "text": {"field": "t"}
          }
        },
        {
          "data": {"name": "notes"},
          "transform": [{"filter": "datum.s === 'ri'"}],
          "mark": {"type": "text", "align": "left", "baseline": "alphabetic", "font": "Liberation Serif", "fontStyle": "italic", "fontSize": 31.5, "color": "#e3131b"},
          "encoding": {
            "x": {"field": "p", "type": "quantitative"},
            "y": {"field": "y", "type": "quantitative", "scale": {"domain": [-4.3, 98], "nice": false, "zero": false}, "axis": null},
            "text": {"field": "t"}
          }
        },
        {
          "data": {"name": "notes"},
          "transform": [{"filter": "datum.s === 'rs'"}],
          "mark": {"type": "text", "align": "left", "baseline": "alphabetic", "font": "Liberation Serif", "fontSize": 21, "color": "#e3131b"},
          "encoding": {
            "x": {"field": "p", "type": "quantitative"},
            "y": {"field": "y", "type": "quantitative", "scale": {"domain": [-4.3, 98], "nice": false, "zero": false}, "axis": null},
            "text": {"field": "t"}
          }
        },
        {
          "data": {"name": "notes"},
          "transform": [{"filter": "datum.s === 'rsi'"}],
          "mark": {"type": "text", "align": "left", "baseline": "alphabetic", "font": "Liberation Serif", "fontStyle": "italic", "fontSize": 21, "color": "#e3131b"},
          "encoding": {
            "x": {"field": "p", "type": "quantitative"},
            "y": {"field": "y", "type": "quantitative", "scale": {"domain": [-4.3, 98], "nice": false, "zero": false}, "axis": null},
            "text": {"field": "t"}
          }
        },
        {
          "data": {"name": "notes"},
          "transform": [{"filter": "datum.s === 'b'"}],
          "mark": {"type": "text", "align": "left", "baseline": "alphabetic", "font": "Liberation Serif", "fontSize": 31.5, "color": "#1a3cc8"},
          "encoding": {
            "x": {"field": "p", "type": "quantitative"},
            "y": {"field": "y", "type": "quantitative", "scale": {"domain": [-4.3, 98], "nice": false, "zero": false}, "axis": null},
            "text": {"field": "t"}
          }
        },
        {
          "data": {"name": "notes"},
          "transform": [{"filter": "datum.s === 'k'"}],
          "mark": {"type": "text", "align": "left", "baseline": "alphabetic", "font": "Liberation Serif", "fontWeight": "bold", "fontSize": 31, "color": "#000000"},
          "encoding": {
            "x": {"field": "p", "type": "quantitative"},
            "y": {"field": "y", "type": "quantitative", "scale": {"domain": [-4.3, 98], "nice": false, "zero": false}, "axis": null},
            "text": {"field": "t"}
          }
        },
        {
          "data": {"name": "notes"},
          "transform": [{"filter": "datum.s === 'unit'"}],
          "mark": {"type": "text", "align": "center", "baseline": "middle", "font": "Liberation Mono", "fontSize": 22, "color": "#666666"},
          "encoding": {
            "x": {"field": "p", "type": "quantitative"},
            "y": {"field": "y", "type": "quantitative", "scale": {"domain": [-4.3, 98], "nice": false, "zero": false}, "axis": null},
            "text": {"field": "t"}
          }
        }
      ]
    },
    {
      "data": {"name": "params"},
      "layer": [
        {
          "transform": [{"filter": "datum.a !== ''"}],
          "mark": {"type": "text", "align": "left", "baseline": "middle", "font": "Liberation Mono", "fontSize": 17.5, "color": "#5e5e5e"},
          "encoding": {
            "x": {"datum": 195.4, "type": "quantitative"},
            "y": {"field": "r", "type": "quantitative", "scale": {"domain": [0.788, 57.94], "reverse": true, "nice": false, "zero": false}, "axis": null},
            "text": {"field": "a"}
          }
        },
        {
          "transform": [{"filter": "datum.b !== ''"}],
          "mark": {"type": "text", "align": "right", "baseline": "middle", "font": "Liberation Mono", "fontSize": 17.5, "color": "#5e5e5e"},
          "encoding": {
            "x": {"datum": 172.95, "type": "quantitative"},
            "y": {"field": "r", "type": "quantitative", "scale": {"domain": [0.788, 57.94], "reverse": true, "nice": false, "zero": false}, "axis": null},
            "text": {"field": "b"}
          }
        },
        {
          "transform": [{"filter": "datum.c !== ''"}],
          "mark": {"type": "text", "align": "left", "baseline": "middle", "font": "Liberation Mono", "fontSize": 17.5, "color": "#5e5e5e"},
          "encoding": {
            "x": {"datum": 170.43, "type": "quantitative"},
            "y": {"field": "r", "type": "quantitative", "scale": {"domain": [0.788, 57.94], "reverse": true, "nice": false, "zero": false}, "axis": null},
            "text": {"field": "c"}
          }
        },
        {
          "transform": [{"filter": "datum.d !== ''"}],
          "mark": {"type": "text", "align": "right", "baseline": "middle", "font": "Liberation Mono", "fontSize": 17.5, "color": "#5e5e5e"},
          "encoding": {
            "x": {"datum": 147.75, "type": "quantitative"},
            "y": {"field": "r", "type": "quantitative", "scale": {"domain": [0.788, 57.94], "reverse": true, "nice": false, "zero": false}, "axis": null},
            "text": {"field": "d"}
          }
        },
        {
          "data": {"name": "heads"},
          "transform": [{"filter": "datum.k === 'sec'"}],
          "mark": {"type": "text", "align": "center", "baseline": "middle", "font": "Liberation Mono", "fontSize": 17.5, "color": "#5e5e5e"},
          "encoding": {
            "x": {"datum": 159.3, "type": "quantitative"},
            "y": {"field": "r", "type": "quantitative", "scale": {"domain": [0.788, 57.94], "reverse": true, "nice": false, "zero": false}, "axis": null},
            "text": {"field": "t"}
          }
        },
        {
          "data": {"name": "heads"},
          "transform": [{"filter": "datum.k === 'flags'"}],
          "mark": {"type": "text", "align": "center", "baseline": "middle", "font": "Liberation Mono", "fontSize": 17.5, "color": "#5e5e5e"},
          "encoding": {
            "x": {"datum": 184.8, "type": "quantitative"},
            "y": {"field": "r", "type": "quantitative", "scale": {"domain": [0.788, 57.94], "reverse": true, "nice": false, "zero": false}, "axis": null},
            "text": {"field": "t"}
          }
        },
        {
          "data": {"name": "heads"},
          "transform": [{"filter": "datum.k === 'val'"}],
          "mark": {"type": "text", "align": "left", "baseline": "middle", "font": "Liberation Mono", "fontSize": 17.5, "color": "#5e5e5e"},
          "encoding": {
            "x": {"datum": 162.9, "type": "quantitative"},
            "y": {"field": "r", "type": "quantitative", "scale": {"domain": [0.788, 57.94], "reverse": true, "nice": false, "zero": false}, "axis": null},
            "text": {"field": "t"}
          }
        }
      ]
    }
  ],
  "resolve": {"scale": {"y": "independent"}}
}
